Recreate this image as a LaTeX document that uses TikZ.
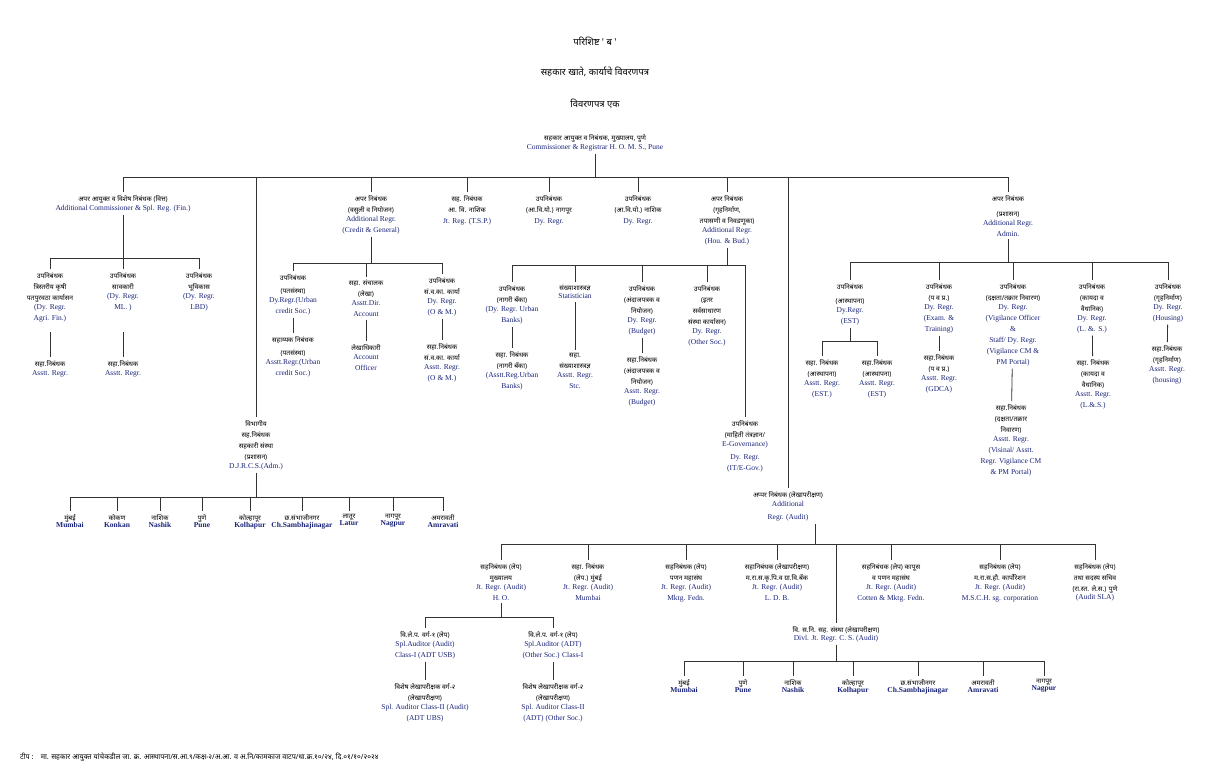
\documentclass[tikz,border=0pt]{standalone}
\usepackage{fontspec}
\setmainfont{Liberation Serif}
\newfontfamily\dev[Script=Devanagari,Scale=0.9]{Noto Sans}
\usetikzlibrary{positioning}
\definecolor{engblue}{RGB}{25,35,120}
\newcommand{\mr}[1]{{\dev #1}}
\newcommand{\en}[1]{{\color{engblue}#1}}
\tikzset{
    post/.style={anchor=north, align=center, inner sep=0pt, outer sep=3pt, font=\fontsize{7.5}{11}\selectfont},
    head/.style={anchor=north, inner sep=0pt, font=\dev\bfseries\fontsize{10.5}{12}\selectfont},
    link/.style={draw, thick, black!80}
}
\begin{document}
\begin{tikzpicture}[x=1pt, y=-1pt]
    \useasboundingbox (0,0) rectangle (1219,774);
    % headings
    \node[head] (t1) at (595,37) {परिशिष्ट ' ब '};
    \node[head] (t2) at (595,67) {सहकार खाते, कार्याचे विवरणपत्र};
    \node[head] (t3) at (595,99) {विवरणपत्र एक};
    \node[post] (root) at (595,131) {\mr{सहकार आयुक्त व निबंधक, मुख्यालय, पुणे}\\[-2pt]\en{Commissioner \& Registrar H. O. M. S., Pune}};
    % level one
    \coordinate (topbus) at (0,177);
    \node[post] (fin) at (123,192) {\mr{अपर आयुक्त व विशेष निबंधक (वित्त)}\\[-2pt]\en{Additional Commissioner \& Spl. Reg. (Fin.)}};
    \node[post] (cred) at (371,192) {\mr{अपर निबंधक}\\\mr{(वसुली व नियोजन)}\\[-2pt]\en{Additional Regr.}\\\en{(Credit \& General)}};
    \node[post] (tsp) at (467,192) {\mr{सह. निबंधक}\\\mr{आ. वि. नाशिक}\\\en{Jt. Reg. (T.S.P.)}};
    \node[post] (ngp) at (549,192) {\mr{उपनिबंधक}\\\mr{(आ.वि.यो.) नागपूर}\\\en{Dy. Regr.}};
    \node[post] (nsk) at (638,192) {\mr{उपनिबंधक}\\\mr{(आ.वि.यो.) नाशिक}\\\en{Dy. Regr.}};
    \node[post] (hou) at (727,192) {\mr{अपर निबंधक}\\\mr{(गृहनिर्माण,}\\\mr{तपासणी व निवडणूका)}\\[-2pt]\en{Additional Regr.}\\\en{(Hou. \& Bud.)}};
    \node[post] (adm) at (1008,192) {\mr{अपर निबंधक}\\[4pt]\mr{(प्रशासन)}\\[-2pt]\en{Additional Regr.}\\\en{Admin.}};
    \node[post] (vib) at (256,417) {\mr{विभागीय}\\\mr{सह.निबंधक}\\\mr{सहकारी संस्था}\\\mr{(प्रशासन)}\\[-2pt]\en{D.J.R.C.S.(Adm.)}};
    \node[post] (aud) at (788,488) {\mr{अप्पर निबंधक (लेखापरीक्षण)}\\[-2pt]\en{Additional}\\[2pt]\en{Regr. (Audit)}};
    \path[link] (root) -- (root |- topbus);
    \path[link] (fin.north |- topbus) -- (adm.north |- topbus);
    \foreach \n in {fin,cred,tsp,ngp,nsk,hou,adm,vib,aud}
        \path[link] (\n.north) -- (\n.north |- topbus);
    % finance
    \coordinate (finbus) at (0,258);
    \node[post] (fin1) at (50,269) {\mr{उपनिबंधक}\\\mr{त्रिस्तरीय कृषी}\\\mr{पतपुरवठा कार्यासन}\\[-2pt]\en{(Dy. Regr.}\\\en{Agri. Fin.)}};
    \node[post] (fin2) at (123,269) {\mr{उपनिबंधक}\\\mr{सावकारी}\\[-2pt]\en{(Dy. Regr.}\\\en{ML. )}};
    \node[post] (fin3) at (199,269) {\mr{उपनिबंधक}\\\mr{भूविकास}\\[-2pt]\en{(Dy. Regr.}\\\en{LBD)}};
    \node[post] (fin1a) at (50,357) {\mr{सहा.निबंधक}\\[-2pt]\en{Asstt. Regr.}};
    \node[post] (fin2a) at (123,357) {\mr{सहा.निबंधक}\\[-2pt]\en{Asstt. Regr.}};
    \path[link] (fin.south) -- (fin.south |- finbus);
    \path[link] (fin1.north |- finbus) -- (fin3.north |- finbus);
    \foreach \n in {fin1,fin2,fin3}
        \path[link] (\n.north) -- (\n.north |- finbus);
    \path[link] (fin1.north |- 0,332) -- (fin1a);
    \path[link] (fin2.north |- 0,332) -- (fin2a);
    % credit
    \coordinate (credbus) at (0,263);
    \node[post] (cr1) at (293,271) {\mr{उपनिबंधक}\\[2pt]\mr{(पतसंस्था)}\\[-2pt]\en{Dy.Regr.(Urban}\\\en{credit Soc.)}};
    \node[post] (cr2) at (366,277) {\mr{सहा. संचालक}\\\mr{(लेखा)}\\[-2pt]\en{Asstt.Dir.}\\\en{Account}};
    \node[post] (cr3) at (442,274) {\mr{उपनिबंधक}\\\mr{सं.व.का. कार्या}\\[-2pt]\en{Dy. Regr.}\\\en{(O \& M.)}};
    \node[post] (cr1a) at (293,333) {\mr{सहाय्यक निबंधक}\\[2pt]\mr{(पतसंस्था)}\\[-2pt]\en{Asstt.Regr.(Urban}\\\en{credit Soc.)}};
    \node[post] (cr2a) at (366,341) {\mr{लेखाधिकारी}\\[-2pt]\en{Account}\\\en{Officer}};
    \node[post] (cr3a) at (442,340) {\mr{सहा.निबंधक}\\\mr{सं.व.का. कार्या}\\[-2pt]\en{Asstt. Regr.}\\\en{(O \& M.)}};
    \path[link] (cred.south) -- (cred.south |- credbus);
    \path[link] (cr1.north |- credbus) -- (cr3.north |- credbus);
    \foreach \n in {cr1,cr2,cr3}
        \path[link] (\n.north) -- (\n.north |- credbus);
    \path[link] (cr1) -- (cr1a);
    \path[link] (cr2) -- (cr2a);
    \path[link] (cr3) -- (cr3a);
    % housing
    \coordinate (houbus) at (0,265);
    \node[post] (h1) at (512,282) {\mr{उपनिबंधक}\\\mr{(नागरी बँका)}\\[-2pt]\en{(Dy. Regr. Urban}\\\en{Banks)}};
    \node[post] (h2) at (575,282) {\mr{संख्याशास्त्रज्ञ}\\[-3pt]\en{Statistician}};
    \node[post] (h3) at (642,282) {\mr{उपनिबंधक}\\\mr{(अंदाजपत्रक व}\\\mr{नियोजन)}\\[-2pt]\en{Dy. Regr.}\\\en{(Budget)}};
    \node[post] (h4) at (707,282) {\mr{उपनिबंधक}\\\mr{(इतर}\\\mr{सर्वसाधारण}\\\mr{संस्था कार्यासन)}\\[-2pt]\en{Dy. Regr.}\\\en{(Other Soc.)}};
    \node[post] (h5) at (745,417) {\mr{उपनिबंधक}\\\mr{(माहिती तंत्रज्ञान/}\\[-2pt]\en{E-Governance)}\\[2pt]\en{Dy. Regr.}\\\en{(IT/E-Gov.)}};
    \node[post] (h1a) at (512,348) {\mr{सहा. निबंधक}\\\mr{(नागरी बँका)}\\[-2pt]\en{(Asstt.Reg.Urban}\\\en{Banks)}};
    \node[post] (h2a) at (575,350) {\mr{सहा.}\\\mr{संख्याशास्त्रज्ञ}\\[-2pt]\en{Asstt. Regr.}\\\en{Stc.}};
    \node[post] (h3a) at (642,353) {\mr{सहा.निबंधक}\\\mr{(अंदाजपत्रक व}\\\mr{नियोजन)}\\[-2pt]\en{Asstt. Regr.}\\\en{(Budget)}};
    \path[link] (hou.south) -- (hou.south |- houbus);
    \path[link] (h1.north |- houbus) -- (h5.north |- houbus);
    \foreach \n in {h1,h2,h3,h4,h5}
        \path[link] (\n.north) -- (\n.north |- houbus);
    \path[link] (h1) -- (h1a);
    \path[link] (h2) -- (h2a);
    \path[link] (h3) -- (h3a);
    % administration
    \coordinate (admbus) at (0,262);
    \coordinate (estbus) at (0,341);
    \node[post] (d1) at (850,280) {\mr{उपनिबंधक}\\[3pt]\mr{(आस्थापना)}\\[-2pt]\en{Dy.Regr.}\\\en{(EST)}};
    \node[post] (d2) at (939,280) {\mr{उपनिबंधक}\\\mr{(प व प्र.)}\\[-2pt]\en{Dy. Regr.}\\\en{(Exam. \&}\\\en{Training)}};
    \node[post] (d3) at (1013,280) {\mr{उपनिबंधक}\\\mr{(दक्षता/तक्रार निवारण)}\\[-2pt]\en{Dy. Regr.}\\\en{(Vigilance Officer}\\\en{\&}\\\en{Staff/ Dy. Regr.}\\\en{(Vigilance CM \&}\\\en{PM Portal)}};
    \node[post] (d4) at (1092,280) {\mr{उपनिबंधक}\\\mr{(कायदा व}\\\mr{वैधानिक)}\\[-2pt]\en{Dy. Regr.}\\\en{(L. \&. S.)}};
    \node[post] (d5) at (1168,280) {\mr{उपनिबंधक}\\\mr{(गृहनिर्माण)}\\[-2pt]\en{Dy. Regr.}\\\en{(Housing)}};
    \node[post] (d1a) at (822,356) {\mr{सहा. निबंधक}\\\mr{(आस्थापना)}\\[-2pt]\en{Asstt. Regr.}\\\en{(EST.)}};
    \node[post] (d1b) at (877,356) {\mr{सहा.निबंधक}\\\mr{(आस्थापना)}\\[-2pt]\en{Asstt. Regr.}\\\en{(EST)}};
    \node[post] (d2a) at (939,351) {\mr{सहा.निबंधक}\\\mr{(प व प्र.)}\\[-2pt]\en{Asstt. Regr.}\\\en{(GDCA)}};
    \node[post] (d3a) at (1011,401) {\mr{सहा.निबंधक}\\\mr{(दक्षता/तक्रार}\\\mr{निवारण)}\\[-2pt]\en{Asstt. Regr.}\\\en{(Visinal/ Asstt.}\\\en{Regr. Vigilance CM}\\\en{\& PM Portal)}};
    \node[post] (d4a) at (1093,356) {\mr{सहा. निबंधक}\\\mr{(कायदा व}\\\mr{वैधानिक)}\\[-2pt]\en{Asstt. Regr.}\\\en{(L.\&.S.)}};
    \node[post] (d5a) at (1167,342) {\mr{सहा.निबंधक}\\\mr{(गृहनिर्माण)}\\[-2pt]\en{Asstt. Regr.}\\\en{(housing)}};
    \path[link] (adm.south) -- (adm.south |- admbus);
    \path[link] (d1.north |- admbus) -- (d5.north |- admbus);
    \foreach \n in {d1,d2,d3,d4,d5}
        \path[link] (\n.north) -- (\n.north |- admbus);
    \path[link] (d1.south) -- (d1.south |- estbus);
    \path[link] (d1a.north |- estbus) -- (d1b.north |- estbus);
    \path[link] (d1a.north) -- (d1a.north |- estbus);
    \path[link] (d1b.north) -- (d1b.north |- estbus);
    \path[link] (d2) -- (d2a);
    \path[link] (d3) -- (d3a);
    \path[link] (d4) -- (d4a);
    \path[link] (d5) -- (d5a);
    % divisions
    \coordinate (vibbus) at (0,497);
    \foreach \x/\m/\e [count=\i] in {70/मुंबई/Mumbai, 117/कोकण/Konkan, 160/नाशिक/Nashik, 202/पुणे/Pune, 250/कोल्हापूर/Kolhapur, 302/छ.संभाजीनगर/Ch.Sambhajinagar, 349/लातूर/Latur, 393/नागपूर/Nagpur, 443/अमरावती/Amravati}
        \node[post] (v\i) at (\x,511) {\mr{\m}\\[-4pt]\en{\bfseries\e}};
    \path[link] (vib.south) -- (vib.south |- vibbus);
    \path[link] (v1.north |- vibbus) -- (v9.north |- vibbus);
    \foreach \i in {1,...,9}
        \path[link] (v\i.north) -- (v\i.north |- vibbus);
    % audit
    \coordinate (audbus) at (0,544);
    \coordinate (hobus) at (0,617);
    \coordinate (divbus) at (0,661);
    \node[post] (a1) at (501,560) {\mr{सहनिबंधक (लेप)}\\\mr{मुख्यालय}\\[-2pt]\en{Jt. Regr. (Audit)}\\\en{H. O.}};
    \node[post] (a2) at (588,560) {\mr{सहा. निबंधक}\\\mr{(लेप.) मुंबई}\\[-2pt]\en{Jt. Regr. (Audit)}\\\en{Mumbai}};
    \node[post] (a3) at (686,560) {\mr{सहनिबंधक (लेप)}\\\mr{पणन महासंघ}\\[-2pt]\en{Jt. Regr. (Audit)}\\\en{Mktg. Fedn.}};
    \node[post] (a4) at (777,560) {\mr{सहानिबंधक (लेखापरीक्षण)}\\\mr{म.रा.स.कृ.पि.व ग्रा.वि.बँक}\\[-2pt]\en{Jt. Regr. (Audit)}\\\en{L. D. B.}};
    \node[post] (a5) at (891,560) {\mr{सहनिबंधक (लेप) कापूस}\\\mr{व पणन महासंघ}\\[-2pt]\en{Jt. Regr. (Audit)}\\\en{Cotten \& Mktg. Fedn.}};
    \node[post] (a6) at (1000,560) {\mr{सहनिबंधक (लेप)}\\\mr{म.रा.स.हौ. कार्पोरेशन}\\[-2pt]\en{Jt. Regr. (Audit)}\\\en{M.S.C.H. sg. corporation}};
    \node[post] (a7) at (1095,560) {\mr{सहनिबंधक (लेप)}\\\mr{तथा सदस्य सचिव}\\\mr{(रा.स्त. ले.स.) पुणे}\\[-3pt]\en{(Audit SLA)}};
    \node[post] (divl) at (836,623) {\mr{वि. स.नि. सह. संस्था (लेखापरीक्षण)}\\[-3pt]\en{Divl. Jt. Regr. C. S. (Audit)}};
    \path[link] (aud.south -| 815,0) -- (815,544);
    \path[link] (a1.north |- audbus) -- (a7.north |- audbus);
    \foreach \n in {a1,a2,a3,a4,a5,a6,a7,divl}
        \path[link] (\n.north) -- (\n.north |- audbus);
    \node[post] (b1) at (425,628) {\mr{वि.ले.प. वर्ग-१ (लेप)}\\[-2pt]\en{Spl.Auditor (Audit)}\\\en{Class-I (ADT USB)}};
    \node[post] (b2) at (553,628) {\mr{वि.ले.प. वर्ग-१ (लेप)}\\[-2pt]\en{Spl.Auditor (ADT)}\\\en{(Other Soc.) Class-I}};
    \node[post] (b1a) at (425,680) {\mr{विशेष लेखापरीक्षक वर्ग-२}\\\mr{(लेखापरीक्षण)}\\[-2pt]\en{Spl. Auditor Class-II (Audit)}\\\en{(ADT UBS)}};
    \node[post] (b2a) at (553,680) {\mr{विशेष लेखापरीक्षक वर्ग-२}\\\mr{(लेखापरीक्षण)}\\[-2pt]\en{Spl. Auditor Class-II}\\\en{(ADT) (Other Soc.)}};
    \path[link] (a1.south) -- (a1.south |- hobus);
    \path[link] (b1.north |- hobus) -- (b2.north |- hobus);
    \path[link] (b1.north) -- (b1.north |- hobus);
    \path[link] (b2.north) -- (b2.north |- hobus);
    \path[link] (b1) -- (b1a);
    \path[link] (b2) -- (b2a);
    \foreach \x/\m/\e [count=\i] in {684/मुंबई/Mumbai, 743/पुणे/Pune, 793/नाशिक/Nashik, 853/कोल्हापूर/Kolhapur, 918/छ.संभाजीनगर/Ch.Sambhajinagar, 983/अमरावती/Amravati, 1044/नागपूर/Nagpur}
        \node[post] (w\i) at (\x,676) {\mr{\m}\\[-4pt]\en{\bfseries\e}};
    \path[link] (divl.south) -- (divl.south |- divbus);
    \path[link] (w1.north |- divbus) -- (w7.north |- divbus);
    \foreach \i in {1,...,7}
        \path[link] (w\i.north) -- (w\i.north |- divbus);
    % note
    \node[anchor=west, inner sep=0pt, font=\dev\fontsize{8}{10}\selectfont] (note) at (20,757) {\textbf{टीप :}\quad मा. सहकार आयुक्त यांचेकडील जा. क्र. आस्थापना/स.आ.९/कक्ष-२/अ.आ. व अ.नि/कामकाज वाटप/धा.क्र.१०/२४, दि.०१/१०/२०२४};
\end{tikzpicture}
\end{document}
